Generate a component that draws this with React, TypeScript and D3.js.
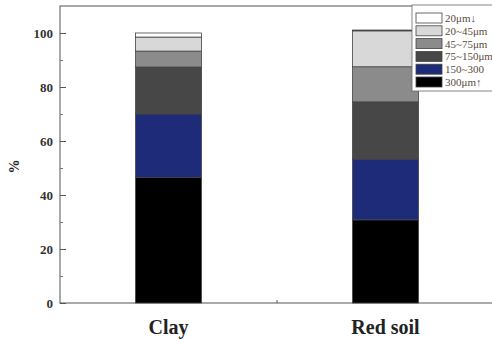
import React, { useEffect, useRef } from 'react';
import * as d3 from 'd3';

// soil types and particle-size fractions (%), bottom to top
const categories = ['Clay', 'Red soil'];
const fractions = ['300μm↑', '150~300', '75~150μm', '45~75μm', '20~45μm', '20μm↓'];
const clayValues = [46.5, 23.5, 17.4, 5.9, 5.2, 1.5];
const redSoilValues = [30.8, 22.5, 21.2, 13.0, 13.3, 0.3];
const fractionColors = ['#000000', '#1e2b78', '#474747', '#8b8b8b', '#d8d8d8', '#ffffff'];
const yTicks = [0, 20, 40, 60, 80, 100];
const yMinorTicks = [10, 30, 50, 70, 90];

const App = () => {
  const svgRef = useRef<SVGSVGElement>(null);

  useEffect(() => {
    const width = 492;
    const height = 339;
    const marginTop = 6;
    const marginLeft = 60;
    const plotRight = 494;
    const plotBottom = 303;

    const svg = d3.select(svgRef.current);
    svg.selectAll('*').remove();

    const x = d3.scalePoint<string>().domain(categories).range([marginLeft, plotRight]).padding(0.5);
    const y = d3.scaleLinear().domain([0, 110]).range([plotBottom, marginTop]);
    const barWidth = 66;

    // frame
    svg.append('rect')
      .attr('x', marginLeft)
      .attr('y', marginTop)
      .attr('width', plotRight + 4 - marginLeft)
      .attr('height', plotBottom - marginTop)
      .attr('fill', 'none')
      .attr('stroke', '#555')
      .attr('stroke-width', 1);

    // stacked bars
    const rows = categories.map((c, i) => {
      const vals = i === 0 ? clayValues : redSoilValues;
      const row: any = { category: c };
      fractions.forEach((f, j) => { row[f] = vals[j]; });
      return row;
    });
    const series = d3.stack().keys(fractions)(rows);

    svg.append('g')
      .selectAll('g')
      .data(series)
      .join('g')
      .attr('fill', (d, i) => fractionColors[i])
      .selectAll('rect')
      .data(d => d)
      .join('rect')
      .attr('x', d => (x(d.data.category as string) as number) - barWidth / 2)
      .attr('width', barWidth)
      .attr('y', d => y(d[1]))
      .attr('height', d => y(d[0]) - y(d[1]))
      .attr('stroke', '#444')
      .attr('stroke-width', 0.8);

    // y axis
    svg.append('g')
      .attr('transform', `translate(${marginLeft},0)`)
      .call(d3.axisLeft(y).tickValues(yTicks).tickSizeInner(-6).tickSizeOuter(0).tickPadding(7))
      .call(g => g.select('.domain').remove())
      .call(g => g.selectAll('.tick line').attr('stroke', '#555'))
      .call(g => g.selectAll('.tick text')
        .attr('fill', '#333')
        .style('font-family', '"Liberation Serif", "Times New Roman", serif')
        .style('font-weight', 'bold')
        .style('font-size', '13px'));

    svg.append('g')
      .attr('transform', `translate(${marginLeft},0)`)
      .call(d3.axisLeft(y).tickValues(yMinorTicks).tickSizeInner(-3).tickSizeOuter(0).tickFormat(() => ''))
      .call(g => g.select('.domain').remove())
      .call(g => g.selectAll('.tick line').attr('stroke', '#777'));

    // x axis: category labels and one minor tick between them
    const mid = ((x(categories[0]) as number) + (x(categories[1]) as number)) / 2;
    svg.append('line')
      .attr('x1', mid).attr('x2', mid)
      .attr('y1', plotBottom).attr('y2', plotBottom - 3)
      .attr('stroke', '#555');

    svg.append('g')
      .selectAll('text')
      .data(categories)
      .join('text')
      .attr('x', d => x(d) as number)
      .attr('y', 334)
      .attr('text-anchor', 'middle')
      .attr('fill', '#222')
      .style('font-family', '"Liberation Serif", "Times New Roman", serif')
      .style('font-weight', 'bold')
      .style('font-size', '20px')
      .text(d => d);

    // y label
    svg.append('text')
      .attr('transform', `translate(19,${(plotBottom + marginTop) / 2 + 12}) rotate(-90)`)
      .attr('text-anchor', 'middle')
      .attr('fill', '#222')
      .style('font-family', '"Liberation Serif", "Times New Roman", serif')
      .style('font-weight', 'bold')
      .style('font-size', '14px')
      .text('%');

    // legend, top row is the finest fraction
    const legend = svg.append('g');
    legend.append('rect')
      .attr('x', 412)
      .attr('y', 5)
      .attr('width', 90)
      .attr('height', 86)
      .attr('fill', '#fff')
      .attr('stroke', '#666')
      .attr('stroke-width', 0.8);

    const legendOrder = fractions.map((f, i) => ({ f, c: fractionColors[i] })).reverse();
    const ly = d3.scalePoint<number>().domain(d3.range(legendOrder.length)).range([18, 82]);
    const items = legend.selectAll('g.item')
      .data(legendOrder)
      .join('g')
      .attr('class', 'item')
      .attr('transform', (d, i) => `translate(416,${ly(i)})`);
    items.append('rect')
      .attr('x', 0)
      .attr('y', -5)
      .attr('width', 26)
      .attr('height', 10)
      .attr('fill', d => d.c)
      .attr('stroke', '#444')
      .attr('stroke-width', 0.8);
    items.append('text')
      .attr('x', 29)
      .attr('y', 4)
      .attr('fill', '#5a4c3c')
      .style('font-family', '"Liberation Serif", "Times New Roman", serif')
      .style('font-size', '11px')
      .text(d => d.f);

    svg.attr('width', width).attr('height', height);
  }, []);

  return (
    <div style={{ position: 'absolute', left: 0, top: 0 }}>
      <svg ref={svgRef} width={492} height={339} style={{ display: 'block', background: '#fff' }} />
    </div>
  );
};

export default App;
